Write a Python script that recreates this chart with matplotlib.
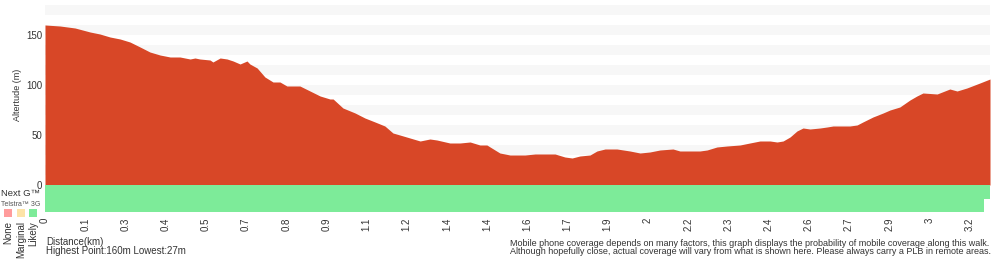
import numpy as np
import matplotlib
matplotlib.use("Agg")
import matplotlib.pyplot as plt
from matplotlib.patches import Rectangle

plt.rcParams['font.family'] = ['Liberation Sans', 'DejaVu Sans']

# distance along the walk (km) and altitude (m)
dist = [0, 0.052, 0.104, 0.156, 0.190, 0.225, 0.260, 0.294, 0.329, 0.363,
        0.398, 0.433, 0.467, 0.502, 0.519, 0.536, 0.571, 0.581, 0.606, 0.630,
        0.651, 0.675, 0.699, 0.709, 0.734, 0.761, 0.789, 0.813, 0.837, 0.882,
        0.917, 0.952, 0.986, 0.997, 1.031, 1.073, 1.107, 1.142, 1.176, 1.204,
        1.228, 1.263, 1.298, 1.332, 1.356, 1.401, 1.436, 1.471, 1.505, 1.529,
        1.557, 1.574, 1.609, 1.661, 1.696, 1.765, 1.799, 1.824, 1.851, 1.886,
        1.910, 1.938, 1.979, 2.024, 2.059, 2.093, 2.128, 2.173, 2.197, 2.266,
        2.291, 2.325, 2.360, 2.405, 2.439, 2.474, 2.509, 2.533, 2.554, 2.578,
        2.602, 2.623, 2.647, 2.682, 2.706, 2.727, 2.785, 2.810, 2.830, 2.865,
        2.900, 2.924, 2.958, 2.993, 3.017, 3.038, 3.087, 3.131, 3.156, 3.190,
        3.235, 3.270]
alt = [160, 159, 157, 153, 151, 148, 146, 143, 138, 133,
       130, 128, 128, 126, 127, 126, 125, 123, 127, 126,
       124, 121, 124, 121, 117, 108, 103, 103, 99, 99,
       94, 89, 86, 86, 77, 72, 67, 63, 59, 52,
       50, 47, 44, 46, 45, 42, 42, 43, 40, 40,
       35, 32, 30, 30, 31, 31, 28, 27, 29, 30,
       34, 36, 36, 34, 32, 33, 35, 36, 34, 34,
       35, 38, 39, 40, 42, 44, 44, 43, 44, 48,
       54, 57, 56, 57, 58, 59, 59, 60, 63, 68,
       72, 75, 78, 85, 89, 92, 91, 96, 94, 97,
       102, 106]

tick_labels = ["0", "0.1", "0.3", "0.4", "0.5", "0.7", "0.8", "0.9", "1.1", "1.2",
               "1.4", "1.4", "1.6", "1.7", "1.9", "2", "2.2", "2.3", "2.4", "2.6",
               "2.7", "2.9", "3", "3.2"]
tick_step = 0.1391

# end of "likely" coverage (km) for each network row
cov_nextg_end = 3.270
cov_3g_end = 3.249

red = '#d84727'
green = '#7deb99'
txt = '#333333'

fig = plt.figure(figsize=(10, 2.6), dpi=100)
ax = fig.add_axes([0.045, 75 / 260, 0.945, 180 / 260])
for k in range(10, 180, 20):
    ax.axhspan(k, k + 10, color='#f7f7f7', lw=0, zorder=0)
ax.fill_between(dist, alt, 0, color=red, lw=0, zorder=2)
ax.set_xlim(0, 3.27)
ax.set_ylim(0, 180)
ax.set_xticks([])
ax.set_yticks([0, 50, 100, 150])
ax.tick_params(axis='y', length=0, labelsize=7, labelcolor=txt, pad=2)
for s in ax.spines.values():
    s.set_visible(False)
ax.set_ylabel('Altertude (m)', fontsize=6.5, color=txt, labelpad=3)

cx = fig.add_axes([0.045, 48 / 260, 0.945, 27 / 260])
cx.set_xlim(0, 3.27)
cx.set_ylim(0, 2)
cx.add_patch(Rectangle((0, 1), cov_nextg_end, 1, color=green, lw=0))
cx.add_patch(Rectangle((0, 0), cov_3g_end, 1, color=green, lw=0))
cx.set_yticks([])
cx.set_xticks([i * tick_step for i in range(len(tick_labels))])
cx.set_xticklabels(tick_labels, rotation=90, fontsize=7, color=txt)
cx.tick_params(axis='x', length=0, pad=4)
for s in cx.spines.values():
    s.set_visible(False)

fig.text(0.001, 1 - 194 / 260, 'Next G\u2122', fontsize=6.8, color=txt,
         ha='left', va='center')
fig.text(0.040, 1 - 204 / 260, 'Telstra\u2122 3G', fontsize=5, color='#555555',
         ha='right', va='center')

leg_cols = ['#ff9c9c', '#fde3a7', '#7deb99']
leg_names = ['None', 'Marginal', 'Likely']
for i, (c, n) in enumerate(zip(leg_cols, leg_names)):
    x0 = 4 + i * 12.5
    fig.patches.append(Rectangle((x0 / 1000, 1 - 217 / 260), 8 / 1000, 8 / 260,
                                 color=c, lw=0, transform=fig.transFigure))
    fig.text((x0 + 4.5) / 1000, 1 - 221 / 260, n, rotation=90, fontsize=7,
             color=txt, ha='center', va='top')

fig.text(0.046, 1 - 242 / 260, 'Distance(km)', fontsize=7, color=txt, va='center')
fig.text(0.046, 1 - 251 / 260, 'Highest Point:160m Lowest:27m', fontsize=7,
         color=txt, va='center')
fig.text(0.510, 1 - 243 / 260,
         'Mobile phone coverage depends on many factors, this graph displays the '
         'probability of mobile coverage along this walk.', fontsize=6.5, color=txt,
         va='center')
fig.text(0.510, 1 - 252 / 260,
         'Although hopefully close, actual coverage will vary from what is shown here. '
         'Please always carry a PLB in remote areas.', fontsize=6.5, color=txt,
         va='center')

fig.savefig('out.png', dpi=100)
